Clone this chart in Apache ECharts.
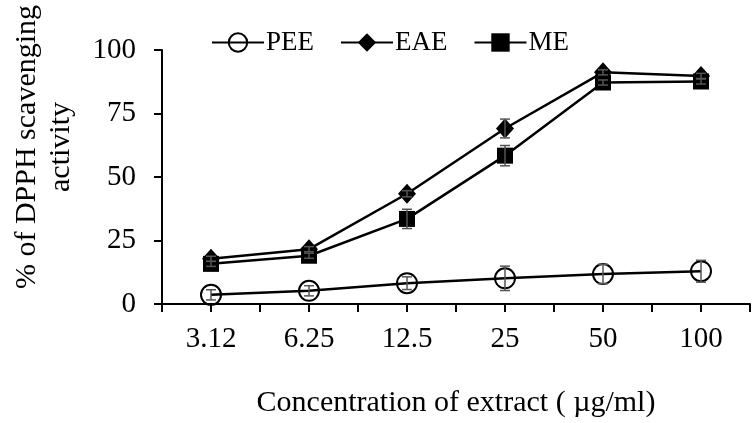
<!DOCTYPE html>
<html><head><meta charset="utf-8">
<script src="https://cdn.jsdelivr.net/npm/echarts@6/dist/echarts.min.js"></script>
<style>html,body{margin:0;padding:0;background:#fff}#c{width:753px;height:423px}</style>
</head><body><div id="c"></div>
<script>
var categories = ['3.12', '6.25', '12.5', '25', '50', '100'];
var peeValues = [3.6, 5.2, 8.2, 10.1, 11.8, 12.9];
var peeErr = [2.0, 2.0, 2.5, 4.8, 3.8, 4.3];
var eaeValues = [17.8, 21.6, 43.4, 69.1, 91.2, 89.8];
var eaeErr = [1.0, 1.0, 1.2, 3.7, 1.0, 1.0];
var meValues = [15.8, 19.0, 33.5, 58.4, 87.2, 87.6];
var meErr = [1.0, 1.0, 3.8, 4.0, 1.0, 1.0];
var yTicks = [0, 25, 50, 75, 100];

var FONT = '"Liberation Serif", "Times New Roman", serif';
function pts(vals) { return vals.map(function (v, i) { return [i, v]; }); }
function errData(vals, errs) { return vals.map(function (v, i) { return [i, v - errs[i], v + errs[i]]; }); }
function errSeries(vals, errs) {
  return {
    type: 'custom', z: 10, silent: true,
    data: errData(vals, errs),
    renderItem: function (params, api) {
      var lo = api.coord([api.value(0), api.value(1)]);
      var hi = api.coord([api.value(0), api.value(2)]);
      var w = 5;
      var st = { stroke: '#555', lineWidth: 1.5 };
      return { type: 'group', children: [
        { type: 'line', shape: { x1: lo[0], y1: lo[1], x2: hi[0], y2: hi[1] }, style: st },
        { type: 'line', shape: { x1: lo[0] - w, y1: lo[1], x2: lo[0] + w, y2: lo[1] }, style: st },
        { type: 'line', shape: { x1: hi[0] - w, y1: hi[1], x2: hi[0] + w, y2: hi[1] }, style: st }
      ]};
    }
  };
}
var chart = echarts.init(document.getElementById('c'));
chart.setOption({
  animation: false,
  backgroundColor: '#fff',
  grid: { left: 162, top: 50, width: 595, height: 255, containLabel: false },
  legend: {
    top: 24, left: 206, itemWidth: 52, itemHeight: 23, itemGap: 26,
    textStyle: { fontFamily: FONT, fontSize: 27, color: '#000', padding: [0, 0, 0, -3] },
    data: ['PEE', 'EAE', 'ME']
  },
  xAxis: {
    type: 'value', min: -0.5, max: 5.5, interval: 0.5,
    axisLine: { onZero: false, lineStyle: { color: '#000', width: 2 } },
    axisTick: { show: true, length: 8, lineStyle: { color: '#000', width: 2 } },
    splitLine: { show: false },
    axisLabel: {
      margin: 21, fontFamily: FONT, fontSize: 29, color: '#000',
      formatter: function (v) { var i = Math.round(v); return Math.abs(v - i) < 1e-6 && i >= 0 && i < categories.length ? categories[i] : ''; }
    },
    name: 'Concentration of extract ( \u00b5g/ml)', nameLocation: 'middle', nameGap: 84,
    nameTextStyle: { fontFamily: FONT, fontSize: 30, color: '#000' }
  },
  yAxis: {
    type: 'value', min: 0, max: 100, interval: 25,
    axisLine: { show: true, onZero: false, lineStyle: { color: '#000', width: 2 } },
    axisTick: { show: true, length: 8, lineStyle: { color: '#000', width: 2 } },
    splitLine: { show: false },
    axisLabel: { margin: 26, fontFamily: FONT, fontSize: 29, color: '#000',
      formatter: function (v) { return yTicks.indexOf(v) >= 0 ? String(v) : ''; } },
    name: '% of DPPH scavenging\nactivity', nameLocation: 'middle', nameGap: 84, nameRotate: 90,
    nameTextStyle: { fontFamily: FONT, fontSize: 30, color: '#000', lineHeight: 34, padding: [0, 0, 0, 60] }
  },
  series: [
    { name: 'PEE', type: 'line', data: pts(peeValues), symbol: 'circle', symbolSize: 20,
      lineStyle: { color: '#000', width: 2.5 }, itemStyle: { color: 'rgba(0,0,0,0)', borderColor: '#000', borderWidth: 2 }, z: 3 },
    { name: 'EAE', type: 'line', data: pts(eaeValues), symbol: 'diamond', symbolSize: [18, 20],
      lineStyle: { color: '#000', width: 2.5 }, itemStyle: { color: '#000' }, z: 3 },
    { name: 'ME', type: 'line', data: pts(meValues), symbol: 'rect', symbolSize: 16,
      lineStyle: { color: '#000', width: 2.5 }, itemStyle: { color: '#000' }, z: 3 },
    errSeries(peeValues, peeErr),
    errSeries(eaeValues, eaeErr),
    errSeries(meValues, meErr)
  ]
});
</script></body></html>
